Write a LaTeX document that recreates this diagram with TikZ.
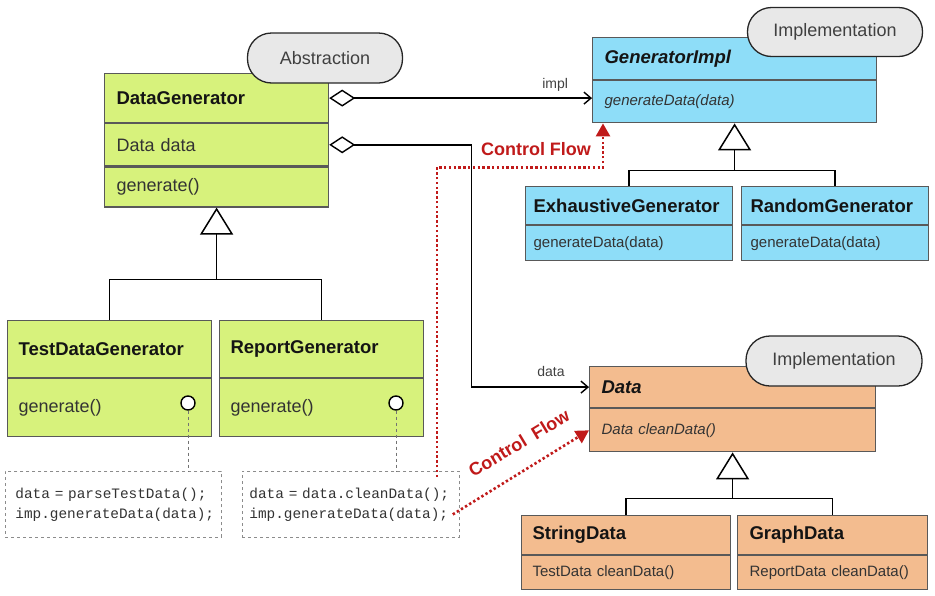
\documentclass[tikz,border=0pt]{standalone}
\usepackage{fontspec}
\setmainfont{Liberation Sans}
\setmonofont{Liberation Mono}
\usepackage{tikz}
\usetikzlibrary{calc,positioning,shapes}
\usetikzlibrary{arrows.meta}
\tikzset{>={Straight Barb[width=12pt,length=7pt]}}
\definecolor{absgreen}{HTML}{D7F27C}
\definecolor{implblue}{HTML}{8EDDF8}
\definecolor{dataorange}{HTML}{F3BC8F}
\definecolor{flowred}{HTML}{C01A1A}

\begin{document}
\begin{tikzpicture}[x=1pt,y=-1pt]
      %%%%%%%%%%%%%%%%%%%%%%%%%%%%%%%%%%%%%%%%%%%%%%%%%%
      %% bridge: abstraction / implementation
      %%%%%%%%%%%%%%%%%%%%%%%%%%%%%%%%%%%%%%%%%%%%%%%%%%
      \tikzstyle{comp} = [rectangle, draw=black!65, line width=1.2pt, anchor=north west, inner xsep=12pt, inner ysep=0pt, align=left, text=black!80, font=\fontsize{18}{21}\selectfont]
      \tikzstyle{title} = [comp, text=black!92, font=\fontsize{18.5}{21}\selectfont\bfseries]
      \tikzstyle{small} = [comp, font=\fontsize{15}{18}\selectfont]
      \tikzstyle{pill} = [rectangle, rounded corners=24pt, draw=black!85, line width=1.3pt, fill=black!9, minimum height=50pt, text=black!75, font=\fontsize{18}{21}\selectfont]
      \tikzstyle{note} = [rectangle, draw=black!45, dashed, line width=0.8pt, anchor=north west, minimum height=66pt, inner ysep=0pt, align=left, text=black!80, font=\ttfamily\fontsize{14.4}{20}\selectfont]
      \tikzstyle{port} = [circle, draw=black, line width=1.4pt, fill=white, minimum size=14pt, inner sep=0pt]
      \tikzstyle{tree} = [line width=1.5pt]
      \tikzstyle{inh} = [line width=1.5pt, -{Triangle[open, width=33pt, length=27pt]}]
      \tikzstyle{agg} = [line width=1.4pt, {Diamond[open, length=26pt, width=17pt]}->]
      \tikzstyle{lbl} = [text=black!75, font=\fontsize{14}{16}\selectfont]
      \tikzstyle{notelink} = [draw=black!55, dashed, line width=0.8pt]
      \tikzstyle{flow} = [draw=flowred, line width=2.6pt, dash pattern=on 2.4pt off 2.4pt, -{Triangle[length=13pt, width=14pt]}]
      \tikzstyle{flowlbl} = [text=flowred, font=\fontsize{18}{21}\selectfont\bfseries]
      \useasboundingbox (0,0) rectangle (935,595);

      % abstraction classes
      \node[title, fill=absgreen, text width=200pt, minimum height=49pt] (dgT) at (104,73) {DataGenerator};
      \node[comp, fill=absgreen, text width=200pt, minimum height=42pt] (dgA) at (dgT.south west) {Data data};
      \node[comp, fill=absgreen, text width=200pt, minimum height=40pt] (dgO) at (dgA.south west) {generate()};
      \node[title, fill=absgreen, inner xsep=11pt, text width=182pt, minimum height=57pt] (tdgT) at (7,320) {TestDataGenerator};
      \node[comp, fill=absgreen, inner xsep=11pt, text width=182pt, minimum height=58pt] (tdgO) at (tdgT.south west) {generate()};
      \node[title, fill=absgreen, inner xsep=11pt, text width=182pt, minimum height=57pt] (rgT) at (219,320) {ReportGenerator};
      \node[comp, fill=absgreen, inner xsep=11pt, text width=182pt, minimum height=58pt] (rgO) at (rgT.south west) {generate()};

      % implementation classes
      \node[title, fill=implblue, text width=260pt, minimum height=42pt, font=\fontsize{18.5}{21}\selectfont\bfseries\itshape] (giT) at (592,37) {GeneratorImpl};
      \node[small, fill=implblue, text width=260pt, minimum height=42pt, font=\fontsize{15}{18}\selectfont\itshape] (giM) at (giT.south west) {generateData(data)};
      \node[title, fill=implblue, inner xsep=8pt, text width=191pt, minimum height=38pt] (egT) at (525,186) {ExhaustiveGenerator};
      \node[small, fill=implblue, inner xsep=8pt, text width=191pt, minimum height=35pt] (egM) at (egT.south west) {generateData(data)};
      \node[title, fill=implblue, inner xsep=9pt, text width=169pt, minimum height=38pt] (rnT) at (741,186) {RandomGenerator};
      \node[small, fill=implblue, inner xsep=9pt, text width=169pt, minimum height=35pt] (rnM) at (rnT.south west) {generateData(data)};

      % data classes
      \node[title, fill=dataorange, text width=262pt, minimum height=41pt, font=\fontsize{18.5}{21}\selectfont\bfseries\itshape] (dT) at (589,366) {Data};
      \node[small, fill=dataorange, text width=262pt, minimum height=43pt, font=\fontsize{15}{18}\selectfont\itshape] (dM) at (dT.south west) {Data cleanData()};
      \node[title, fill=dataorange, inner xsep=11pt, text width=187pt, minimum height=39pt] (sdT) at (521,515) {StringData};
      \node[small, fill=dataorange, inner xsep=11pt, text width=187pt, minimum height=34pt] (sdM) at (sdT.south west) {TestData cleanData()};
      \node[title, fill=dataorange, inner xsep=12pt, text width=166pt, minimum height=39pt] (gdT) at (737,515) {GraphData};
      \node[small, fill=dataorange, inner xsep=12pt, text width=166pt, minimum height=34pt] (gdM) at (gdT.south west) {ReportData cleanData()};

      % stereotype pills
      \node[pill, minimum width=155pt] (absPill) at (325,58) {Abstraction};
      \node[pill, minimum width=175pt, minimum height=49pt] (implPill) at (835,32) {Implementation};
      \node[pill, minimum width=176pt] (dataPill) at (834,361) {Implementation};

      % inheritance trees
      \coordinate (dgJ) at ($(dgO.south)+(0,72)$);
      \draw[tree] (tdgT.north) |- (dgJ) -| (rgT.north);
      \draw[inh] (dgJ) -- (dgO.south);
      \coordinate (giJ) at ($(giM.south)+(0,47)$);
      \draw[tree] (egT.north) |- (giJ) -| (rnT.north);
      \draw[inh] (giJ) -- (giM.south);
      \coordinate (dJ) at ($(dM.south)+(0,46)$);
      \draw[tree] (sdT.north) |- (dJ) -| (gdT.north);
      \draw[inh] (dJ) -- (dM.south);

      % aggregations
      \draw[agg] (dgT.east) -- (dgT.east -| giM.west) node[lbl, pos=0.86, above=3pt] (implLbl) {impl};
      \coordinate (dBend) at ($(dgA.east)+(142,0)$);
      \draw[agg] (dgA.east) -- (dBend) |- (dT.west);
      \node[lbl] (dataLbl) at ($(dT.west)+(-38,-16)$) {data};

      % notes
      \node[note, inner xsep=10pt, text width=196pt] (tdgNote) at (5,471) {data~=~parseTestData();\\imp.generateData(data);};
      \node[note, inner xsep=7pt, text width=203pt] (rgNote) at (242,471) {data~=~data.cleanData();\\imp.generateData(data);};
      \node[port] (tdgP) at (188,403) {};
      \node[port] (rgP) at (396,403) {};
      \draw[notelink] (tdgP) -- (tdgP |- tdgNote.north);
      \draw[notelink] (rgP) -- (rgP |- rgNote.north);

      % control flow
      \coordinate (cf1) at ($(rgNote.north east)+(-23,6)$);
      \draw[flow] (cf1) |- ($(giM.south west)+(11,44)$) -- ($(giM.south west)+(11,0)$);
      \node[flowlbl] (cfLbl1) at (536,149) {Control Flow};
      \draw[flow] ($(rgNote.east)+(-7,10)$) -- (dM.west);
      \node[flowlbl, rotate=31] (cfLbl2) at (519,443) {Control\hspace{4pt} Flow};
\end{tikzpicture}
\end{document}
